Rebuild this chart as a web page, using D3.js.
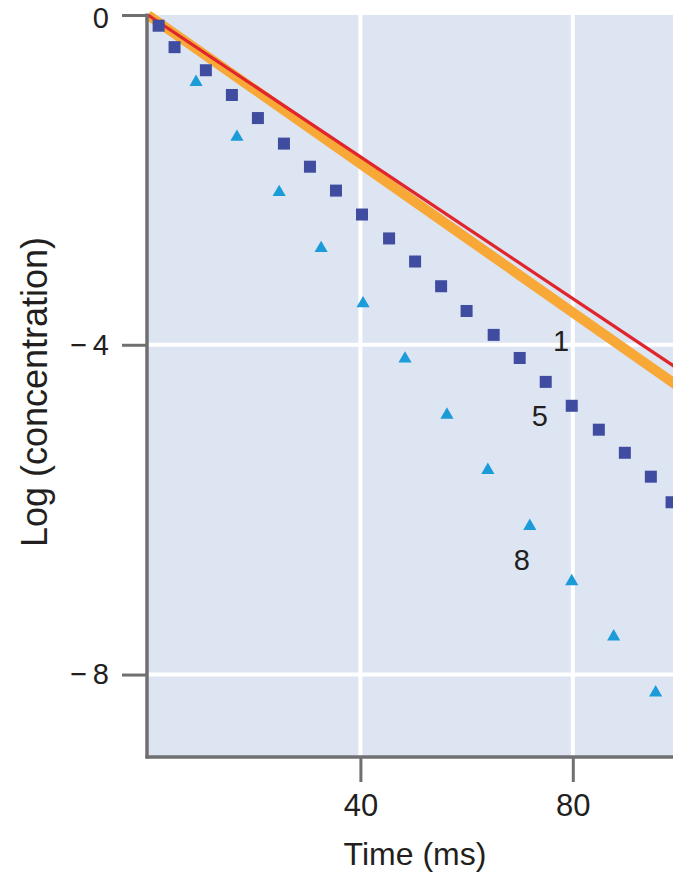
<!DOCTYPE html>
<html>
<head>
<meta charset="utf-8">
<script src="https://cdn.jsdelivr.net/npm/d3@7"></script>
<style>
  html, body { margin: 0; padding: 0; background: #ffffff; }
  svg { display: block; font-family: "Liberation Sans", Arial, Helvetica, sans-serif; }
</style>
</head>
<body>
<svg id="chart" width="673" height="875"></svg>
<script>
// ---- Data ----
const xTicks = [40, 80];
const yTicks = [0, -4, -8];
const xDomain = [0, 100];
const yDomain = [0, -9];

// Curve 1 (red, thin) and its companion thick orange line
const lineTime = [0, 100];
const line1Values = [0, -4.30];
const lineOrangeValues = [0, -4.51];

// Curve 5: squares
const squareTime = [2, 5, 10.9, 15.8, 20.7, 25.6, 30.5, 35.4, 40.3, 45.4, 50.3, 55.2, 60.0, 65.1, 70.0, 74.9, 79.8, 84.9, 89.8, 94.7, 98.6];
const squareValues = [-0.13, -0.39, -0.67, -0.97, -1.25, -1.56, -1.84, -2.13, -2.42, -2.71, -2.99, -3.29, -3.59, -3.88, -4.16, -4.45, -4.74, -5.03, -5.31, -5.60, -5.91];

// Curve 8: triangles
const triangleTime = [9.05, 16.75, 24.7, 32.6, 40.5, 48.4, 56.3, 64.0, 71.9, 79.8, 87.7, 95.6];
const triangleValues = [-0.815, -1.48, -2.15, -2.83, -3.50, -4.17, -4.85, -5.52, -6.20, -6.87, -7.54, -8.22];

// Curve labels
const curveLabels = ["1", "5", "8"];
const curveLabelTime = [77.8, 73.8, 70.4];
const curveLabelValues = [-4.08, -4.98, -6.73];

const xTitle = "Time (ms)";
const yTitle = "Log (concentration)";

// ---- Drawing ----
const W = 673, H = 875;
const svg = d3.select("#chart");

const x = d3.scaleLinear().domain(xDomain).range([148, 679]);
const y = d3.scaleLinear().domain(yDomain).range([15, 757]);

const plotBg = "#dde5f3";
const axisColor = "#6f6f72";
const textColor = "#231f20";

// plot background
svg.append("rect")
  .attr("x", x(0)).attr("y", y(0))
  .attr("width", W - x(0)).attr("height", y(-9) - y(0))
  .attr("fill", plotBg);

// gridlines
svg.append("g").selectAll("line").data(xTicks).join("line")
  .attr("x1", d => x(d)).attr("x2", d => x(d))
  .attr("y1", y(0)).attr("y2", y(-9))
  .attr("stroke", "#ffffff").attr("stroke-width", 4);
svg.append("g").selectAll("line").data(yTicks.filter(d => d !== 0)).join("line")
  .attr("x1", x(0)).attr("x2", W)
  .attr("y1", d => y(d)).attr("y2", d => y(d))
  .attr("stroke", "#ffffff").attr("stroke-width", 4);

// lines
const lineGen = d3.line().x(d => x(d[0])).y(d => y(d[1]));
svg.append("path")
  .datum(lineTime.map((t, i) => [t, lineOrangeValues[i]]))
  .attr("d", lineGen)
  .attr("fill", "none").attr("stroke", "#f7a836").attr("stroke-width", 10);
svg.append("path")
  .datum(lineTime.map((t, i) => [t, line1Values[i]]))
  .attr("d", lineGen)
  .attr("fill", "none").attr("stroke", "#e0252d").attr("stroke-width", 3.2);

// squares
const sq = 12;
svg.append("g").selectAll("rect").data(squareTime.map((t, i) => [t, squareValues[i]])).join("rect")
  .attr("x", d => x(d[0]) - sq / 2).attr("y", d => y(d[1]) - sq / 2)
  .attr("width", sq).attr("height", sq)
  .attr("fill", "#3f4ca0");

// triangles
const tri = d3.symbol().type(d3.symbolTriangle).size(75);
svg.append("g").selectAll("path").data(triangleTime.map((t, i) => [t, triangleValues[i]])).join("path")
  .attr("d", tri)
  .attr("transform", d => `translate(${x(d[0])},${y(d[1])})`)
  .attr("fill", "#1b9bd7");

// axes
const yAxis = d3.axisLeft(y).tickValues(yTicks).tickSize(25).tickSizeOuter(0).tickPadding(13)
  .tickFormat(d => d === 0 ? "0" : "\u2212\u2009" + Math.abs(d));
const gy = svg.append("g").attr("transform", `translate(${x(0) - 1},0)`).call(yAxis);
gy.select(".domain").remove();
gy.selectAll(".tick line").attr("stroke", axisColor).attr("stroke-width", 3);
gy.selectAll(".tick text").attr("fill", textColor).attr("font-size", 29)
  .attr("font-family", "Liberation Sans, Arial, sans-serif")
  .attr("dy", d => d === 0 ? "0.42em" : "0.32em");

const xAxis = d3.axisBottom(x).tickValues(xTicks).tickSize(25).tickSizeOuter(0).tickPadding(12);
const gx = svg.append("g").attr("transform", `translate(0,${y(-9)})`).call(xAxis);
gx.select(".domain").remove();
gx.selectAll(".tick line").attr("stroke", axisColor).attr("stroke-width", 3);
gx.selectAll(".tick text").attr("fill", textColor).attr("font-size", 31)
  .attr("font-family", "Liberation Sans, Arial, sans-serif");

// axis lines
svg.append("line")
  .attr("x1", x(0) - 1).attr("x2", x(0) - 1)
  .attr("y1", y(0) - 1.5).attr("y2", y(-9) + 1.5)
  .attr("stroke", axisColor).attr("stroke-width", 3.5);
svg.append("line")
  .attr("x1", x(0) - 2.5).attr("x2", W)
  .attr("y1", y(-9)).attr("y2", y(-9))
  .attr("stroke", axisColor).attr("stroke-width", 3.5);

// curve labels
svg.append("g").selectAll("text").data(curveLabels).join("text")
  .attr("x", (d, i) => x(curveLabelTime[i]))
  .attr("y", (d, i) => y(curveLabelValues[i]))
  .attr("text-anchor", "middle")
  .attr("font-size", 29)
  .attr("fill", textColor)
  .text(d => d);

// axis titles
svg.append("text")
  .attr("x", 415).attr("y", 865)
  .attr("text-anchor", "middle")
  .attr("font-size", 32)
  .attr("fill", textColor)
  .text(xTitle);

svg.append("text")
  .attr("transform", `translate(47,392) rotate(-90)`)
  .attr("text-anchor", "middle")
  .attr("font-size", 36)
  .attr("fill", textColor)
  .text(yTitle);
</script>
</body>
</html>
